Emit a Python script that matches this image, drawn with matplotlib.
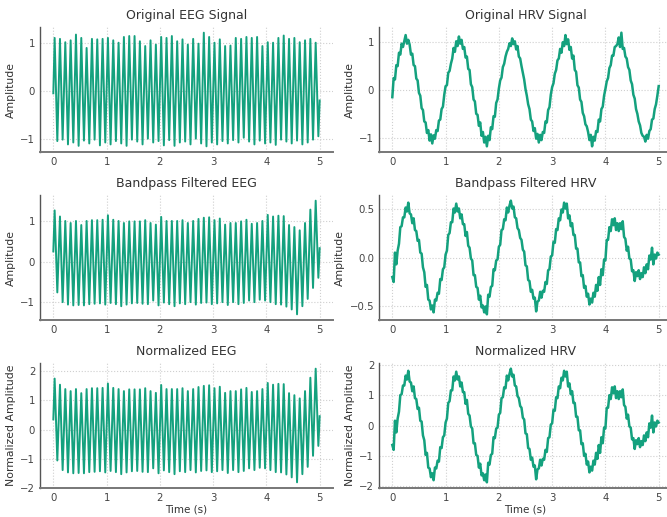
import numpy as np
import matplotlib
matplotlib.use("Agg")
import matplotlib.pyplot as plt
from matplotlib.ticker import MultipleLocator

# ---------------- data ----------------
# EEG (~10 Hz): start value, peak values, trough values, end value
eeg_orig_start = -0.05
eeg_orig_peaks = [1.11, 1.09, 1.02, 1.06, 1.18, 1.11, 0.90, 1.09, 1.08, 1.09,
                  1.11, 1.06, 1.01, 1.13, 1.15, 1.15, 1.04, 0.94, 1.06, 0.97,
                  1.13, 1.11, 1.15, 1.04, 1.08, 0.97, 1.09, 0.99, 1.22, 1.13,
                  1.01, 1.08, 0.94, 0.95, 1.11, 1.09, 1.13, 1.11, 1.13, 0.94,
                  1.02, 1.01, 1.11, 1.16, 1.09, 1.11, 1.02, 1.06, 1.09, 1.01]
eeg_orig_troughs = [-1.05, -1.02, -1.12, -1.08, -1.15, -1.04, -1.10, -1.02, -1.14, -1.08,
                    -1.12, -1.05, -1.10, -1.15, -1.02, -1.06, -1.12, -1.00, -1.08, -1.05,
                    -1.14, -1.03, -1.15, -1.08, -1.06, -1.12, -1.00, -1.10, -1.16, -1.08,
                    -1.12, -1.05, -1.10, -1.03, -1.08, -0.98, -1.06, -1.12, -1.04, -1.10,
                    -1.08, -1.13, -1.02, -1.06, -1.10, -1.04, -1.12, -1.08, -1.02, -0.95]
eeg_orig_end = -0.20

eeg_bp_start = 0.25
eeg_bp_peaks = [1.26, 1.11, 1.00, 0.95, 1.00, 0.90, 1.00, 1.02, 1.02, 1.03,
                1.14, 1.03, 1.00, 0.95, 0.99, 0.99, 0.99, 1.02, 0.95, 0.91,
                1.10, 1.00, 1.00, 1.00, 1.02, 0.95, 1.00, 1.05, 1.08, 1.09,
                1.02, 1.06, 0.91, 0.95, 0.95, 0.99, 1.03, 0.93, 0.95, 1.00,
                1.15, 1.11, 1.13, 1.12, 0.90, 0.85, 0.77, 0.95, 1.28, 1.50]
eeg_bp_troughs = [-0.76, -1.00, -1.06, -1.08, -1.07, -1.08, -1.05, -1.04, -1.03, -1.06,
                  -1.02, -1.05, -1.10, -1.06, -1.03, -1.02, -1.04, -1.05, -0.96, -1.08,
                  -1.01, -1.05, -1.10, -1.03, -1.05, -1.00, -1.06, -1.02, -1.01, -1.05,
                  -1.03, -1.00, -1.07, -1.00, -1.05, -1.02, -0.96, -1.00, -0.94, -0.96,
                  -1.00, -1.05, -1.06, -1.11, -1.18, -1.30, -1.10, -0.92, -0.65, -0.40]
eeg_bp_end = 0.33

eeg_norm_start = 0.35
eeg_norm_peaks = [1.75, 1.54, 1.39, 1.32, 1.39, 1.25, 1.39, 1.42, 1.42, 1.43,
                  1.58, 1.43, 1.39, 1.32, 1.38, 1.38, 1.38, 1.42, 1.32, 1.26,
                  1.53, 1.39, 1.39, 1.39, 1.42, 1.32, 1.39, 1.46, 1.50, 1.52,
                  1.42, 1.47, 1.26, 1.32, 1.32, 1.38, 1.43, 1.29, 1.32, 1.39,
                  1.60, 1.54, 1.57, 1.56, 1.25, 1.18, 1.07, 1.32, 1.78, 2.09]
eeg_norm_troughs = [-1.06, -1.39, -1.47, -1.50, -1.49, -1.50, -1.46, -1.45, -1.43, -1.47,
                    -1.42, -1.46, -1.53, -1.47, -1.43, -1.42, -1.45, -1.46, -1.33, -1.50,
                    -1.40, -1.46, -1.53, -1.43, -1.46, -1.39, -1.47, -1.42, -1.40, -1.46,
                    -1.43, -1.39, -1.49, -1.39, -1.46, -1.42, -1.33, -1.39, -1.31, -1.33,
                    -1.39, -1.46, -1.47, -1.54, -1.64, -1.81, -1.53, -1.28, -0.90, -0.56]
eeg_norm_end = 0.46

# HRV (~1 Hz), sampled every 0.025 s from 0 to 5 s
hrv_orig = [-0.15, 0.25, 0.22, 0.52, 0.50, 0.78, 0.74, 0.97, 0.90, 1.02,
            1.15, 0.97, 1.05, 0.95, 0.74, 0.76, 0.52, 0.50, 0.24, 0.20,
            -0.06, -0.12, -0.38, -0.42, -0.66, -0.68, -0.90, -0.84, -1.06, -0.93,
            -1.12, -0.95, -1.02, -0.84, -0.86, -0.64, -0.62, -0.40, -0.35, -0.10,
            0.08, 0.10, 0.36, 0.40, 0.55, 0.66, 0.88, 0.80, 1.02, 0.92,
            1.12, 0.97, 1.05, 0.86, 0.90, 0.68, 0.70, 0.44, 0.42, 0.12,
            0.06, -0.20, -0.24, -0.50, -0.52, -0.75, -0.68, -0.96, -0.88, -1.10,
            -0.98, -1.18, -0.96, -1.05, -0.78, -0.82, -0.55, -0.56, -0.27, -0.20,
            0.03, 0.20, 0.26, 0.48, 0.55, 0.70, 0.80, 0.86, 0.98, 0.92,
            1.08, 0.96, 1.02, 0.85, 0.92, 0.70, 0.66, 0.50, 0.36, 0.22,
            0.02, -0.12, -0.30, -0.40, -0.62, -0.66, -0.86, -0.80, -1.02, -0.92,
            -1.10, -0.94, -1.05, -0.88, -0.90, -0.66, -0.68, -0.42, -0.36, -0.10,
            0.06, 0.14, 0.34, 0.42, 0.62, 0.66, 0.86, 0.78, 1.00, 0.92,
            1.15, 0.96, 1.06, 0.84, 0.90, 0.66, 0.72, 0.42, 0.38, 0.10,
            0.05, -0.20, -0.25, -0.48, -0.55, -0.72, -0.76, -0.88, -1.05, -0.94,
            -1.18, -0.98, -1.06, -0.86, -0.88, -0.62, -0.66, -0.40, -0.35, -0.12,
            0.02, 0.18, 0.25, 0.46, 0.52, 0.72, 0.72, 0.90, 0.92, 0.96,
            1.10, 0.90, 1.20, 0.86, 0.88, 0.70, 0.66, 0.48, 0.42, 0.20,
            0.12, -0.10, -0.18, -0.40, -0.50, -0.66, -0.74, -0.90, -0.96, -0.98,
            -1.08, -0.94, -1.02, -0.86, -0.82, -0.62, -0.60, -0.40, -0.30, -0.12,
            0.08]

hrv_bp = [-0.20, -0.25, 0.05, -0.07, 0.07, 0.14, 0.31, 0.32, 0.41, 0.41,
          0.51, 0.47, 0.56, 0.45, 0.44, 0.35, 0.40, 0.28, 0.27, 0.17,
          0.18, 0.05, 0.04, -0.10, -0.15, -0.30, -0.28, -0.43, -0.44, -0.53,
          -0.49, -0.56, -0.43, -0.44, -0.36, -0.37, -0.22, -0.23, -0.12, -0.10,
          0.03, 0.07, 0.23, 0.25, 0.36, 0.36, 0.50, 0.46, 0.55, 0.47,
          0.50, 0.40, 0.44, 0.34, 0.34, 0.22, 0.26, 0.12, 0.10, -0.01,
          -0.03, -0.18, -0.18, -0.30, -0.31, -0.43, -0.39, -0.51, -0.49, -0.56,
          -0.50, -0.58, -0.38, -0.40, -0.30, -0.29, -0.12, -0.13, -0.03, -0.02,
          0.11, 0.13, 0.28, 0.29, 0.39, 0.38, 0.51, 0.46, 0.53, 0.58,
          0.50, 0.52, 0.41, 0.40, 0.30, 0.28, 0.20, 0.18, 0.08, 0.06,
          -0.08, -0.09, -0.23, -0.24, -0.35, -0.33, -0.42, -0.41, -0.55, -0.45,
          -0.44, -0.35, -0.41, -0.34, -0.35, -0.25, -0.27, -0.13, -0.12, 0.01,
          0.02, 0.16, 0.15, 0.29, 0.28, 0.40, 0.38, 0.49, 0.46, 0.56,
          0.50, 0.55, 0.40, 0.43, 0.32, 0.35, 0.23, 0.23, 0.09, 0.09,
          -0.05, -0.05, -0.19, -0.18, -0.31, -0.29, -0.40, -0.37, -0.48, -0.42,
          -0.46, -0.36, -0.40, -0.28, -0.34, -0.20, -0.28, -0.12, -0.18, -0.02,
          -0.03, 0.18, 0.18, 0.31, 0.27, 0.39, 0.33, 0.40, 0.28, 0.35,
          0.27, 0.35, 0.29, 0.37, 0.21, 0.19, 0.07, 0.11, -0.01, -0.02,
          -0.14, -0.13, -0.24, -0.15, -0.19, -0.13, -0.22, -0.16, -0.20, -0.10,
          -0.16, -0.07, -0.12, 0.02, -0.02, 0.10, -0.07, 0.03, -0.01, 0.05,
          0.03]

hrv_norm = [-0.65, -0.81, 0.16, -0.23, 0.23, 0.46, 1.01, 1.04, 1.33, 1.33,
            1.66, 1.53, 1.82, 1.46, 1.43, 1.14, 1.30, 0.91, 0.88, 0.55,
            0.59, 0.16, 0.13, -0.33, -0.49, -0.98, -0.91, -1.40, -1.43, -1.72,
            -1.59, -1.82, -1.40, -1.43, -1.17, -1.20, -0.72, -0.75, -0.39, -0.33,
            0.10, 0.23, 0.75, 0.81, 1.17, 1.17, 1.63, 1.50, 1.79, 1.53,
            1.63, 1.30, 1.43, 1.11, 1.11, 0.72, 0.85, 0.39, 0.33, -0.03,
            -0.10, -0.59, -0.59, -0.98, -1.01, -1.40, -1.27, -1.66, -1.59, -1.82,
            -1.63, -1.89, -1.24, -1.30, -0.98, -0.94, -0.39, -0.42, -0.10, -0.07,
            0.36, 0.42, 0.91, 0.94, 1.27, 1.24, 1.66, 1.50, 1.72, 1.89,
            1.63, 1.69, 1.33, 1.30, 0.98, 0.91, 0.65, 0.59, 0.26, 0.20,
            -0.26, -0.29, -0.75, -0.78, -1.14, -1.07, -1.37, -1.33, -1.79, -1.46,
            -1.43, -1.14, -1.33, -1.11, -1.14, -0.81, -0.88, -0.42, -0.39, 0.03,
            0.07, 0.52, 0.49, 0.94, 0.91, 1.30, 1.24, 1.59, 1.50, 1.82,
            1.63, 1.79, 1.30, 1.40, 1.04, 1.14, 0.75, 0.75, 0.29, 0.29,
            -0.16, -0.16, -0.62, -0.59, -1.01, -0.94, -1.30, -1.20, -1.56, -1.37,
            -1.50, -1.17, -1.30, -0.91, -1.11, -0.65, -0.91, -0.39, -0.59, -0.07,
            -0.10, 0.59, 0.59, 1.01, 0.88, 1.27, 1.07, 1.30, 0.91, 1.14,
            0.88, 1.14, 0.94, 1.20, 0.68, 0.62, 0.23, 0.36, -0.03, -0.07,
            -0.46, -0.42, -0.78, -0.49, -0.62, -0.42, -0.72, -0.52, -0.65, -0.33,
            -0.52, -0.23, -0.39, 0.07, -0.07, 0.33, -0.23, 0.10, -0.03, 0.16,
            0.10]

titles = ["Original EEG Signal", "Original HRV Signal",
          "Bandpass Filtered EEG", "Bandpass Filtered HRV",
          "Normalized EEG", "Normalized HRV"]
ylabels = ["Amplitude", "Amplitude", "Normalized Amplitude"]
xlabel = "Time (s)"
duration = 5.0

# ---------------- helpers ----------------
def eeg_series(start, peaks, troughs, end):
    vals = [start]
    for p, t in zip(peaks, troughs):
        vals += [p, t]
    vals.append(end)
    n = len(peaks)
    half = duration / (2 * n)
    times = [0.0] + list(half / 2 + half * np.arange(2 * n)) + [duration]
    return np.array(times), np.array(vals)

def hrv_series(vals):
    return np.linspace(0, duration, len(vals)), np.array(vals)

series = [
    eeg_series(eeg_orig_start, eeg_orig_peaks, eeg_orig_troughs, eeg_orig_end),
    hrv_series(hrv_orig),
    eeg_series(eeg_bp_start, eeg_bp_peaks, eeg_bp_troughs, eeg_bp_end),
    hrv_series(hrv_bp),
    eeg_series(eeg_norm_start, eeg_norm_peaks, eeg_norm_troughs, eeg_norm_end),
    hrv_series(hrv_norm),
]
ysteps = [1, 1, 1, 0.5, 1, 1]

# ---------------- figure ----------------
W, H = 667, 517
fig = plt.figure(figsize=(W / 100, H / 100), dpi=100)
plt.rcParams['font.family'] = ['DejaVu Sans']

line_color = '#14a17e'
text_color = '#333333'
col_left = [40, 379]
row_top = [27, 195, 363]
ax_w, ax_h = 293, 125

for idx, (t, v) in enumerate(series):
    r, c = divmod(idx, 2)
    left = col_left[c] / W
    bottom = 1 - (row_top[r] + ax_h) / H
    ax = fig.add_axes([left, bottom, ax_w / W, ax_h / H])
    ax.plot(t, v, color=line_color, lw=(1.4 if c == 0 else 1.8))
    ax.set_title(titles[idx], fontsize=9, color=text_color, pad=6)
    ax.set_ylabel(ylabels[r], fontsize=7.8, color=text_color, labelpad=3)
    if r == 2:
        ax.set_xlabel(xlabel, fontsize=7.5, color=text_color, labelpad=1)
    ax.xaxis.set_major_locator(MultipleLocator(1))
    ax.yaxis.set_major_locator(MultipleLocator(ysteps[idx]))
    ax.tick_params(axis='both', length=0, labelsize=7.3, colors='#444444', pad=3.5)
    ax.grid(True, linestyle=':', color='#cfcfcf', lw=0.8)
    ax.set_axisbelow(True)
    for s in ['top', 'right']:
        ax.spines[s].set_visible(False)
    ax.spines['left'].set_color('#555555')
    ax.spines['left'].set_linewidth(1.0)
    ax.spines['bottom'].set_color('#777777')
    ax.spines['bottom'].set_linewidth(1.4)

fig.savefig("out.png", dpi=100)
